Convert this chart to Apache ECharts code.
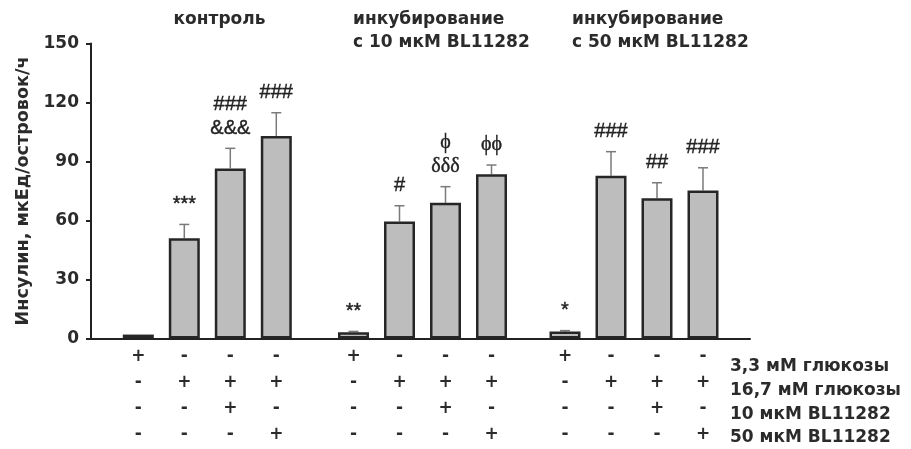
<!DOCTYPE html>
<html><head><meta charset="utf-8">
<script src="https://cdn.jsdelivr.net/npm/echarts@6/dist/echarts.min.js"></script>
<style>html,body{margin:0;padding:0;background:#fff}#c{width:911px;height:449px}</style>
</head><body><div id="c"></div>
<script>
// ---- data ----
const groupTitles = ['контроль', 'инкубирование\nс 10 мкМ BL11282', 'инкубирование\nс 50 мкМ BL11282'];
const rowLabels = ['3,3 мМ глюкозы', '16,7 мМ глюкозы', '10 мкМ BL11282', '50 мкМ BL11282'];
const glucose33  = ['+','-','-','-', '+','-','-','-', '+','-','-','-'];
const glucose167 = ['-','+','+','+', '-','+','+','+', '-','+','+','+'];
const bl10mk     = ['-','-','+','-', '-','-','+','-', '-','-','+','-'];
const bl50mk     = ['-','-','-','+', '-','-','-','+', '-','-','-','+'];
const yAxisName = 'Инсулин, мкЕд/островок/ч';
const yMin = 0, yMax = 150, yInterval = 30;

const controlValues = [2, 51, 86.5, 103];
const controlErrors = [0, 7, 10.2, 11.8];
const controlMarks  = ['', '***', '###\n&&&', '###'];

const bl10Values = [3.2, 59.5, 69, 83.5];
const bl10Errors = [0.4, 8, 8.2, 4.7];
const bl10Marks  = ['**', '#', 'ϕ\nδδδ', 'ϕϕ'];

const bl50Values = [3.5, 82.8, 71.3, 75.3];
const bl50Errors = [0.5, 12.2, 7.9, 11.5];
const bl50Marks  = ['*', '###', '##', '###'];

// ---- build ----
const groupsValues = [controlValues, bl10Values, bl50Values];
const groupsErrors = [controlErrors, bl10Errors, bl50Errors];
const groupsMarks  = [controlMarks, bl10Marks, bl50Marks];
const columns = glucose33.map((s, k) => [glucose33[k], glucose167[k], bl10mk[k], bl50mk[k]].join('\n'));

const FONT = 'DejaVu Sans';
const TXT = '#2b2b2b';
const TOP = 43.5, H = 295;
const groupLeft = [115.3, 330.5, 542];
const groupWidth = 184;

const grids = [{ left: 91, right: 161, top: TOP, height: H }];
groupLeft.forEach(l => grids.push({ left: l, width: groupWidth, top: TOP, height: H }));

const xAxes = [{
  gridIndex: 0, type: 'value', min: 0, max: 1,
  axisLine: { show: true, onZero: false, lineStyle: { color: '#222', width: 2 } },
  axisTick: { show: false }, axisLabel: { show: false }, splitLine: { show: false }
}];
const yAxes = [{
  gridIndex: 0, type: 'value', min: yMin, max: yMax, interval: yInterval,
  name: yAxisName, nameLocation: 'middle', nameRotate: 90, nameGap: 58,
  nameTextStyle: { fontFamily: FONT, fontWeight: 'bold', fontSize: 17.6, color: TXT },
  axisLine: { show: true, lineStyle: { color: '#222', width: 2 } },
  axisTick: { show: true, inside: false, length: 5, lineStyle: { color: '#222', width: 2 } },
  axisLabel: { fontFamily: FONT, fontWeight: 'bold', fontSize: 17, color: TXT, margin: 12 },
  splitLine: { show: false }
}];
const series = [];

for (let g = 0; g < 3; g++) {
  const gi = g + 1;
  xAxes.push({
    gridIndex: gi, type: 'category', data: columns.slice(g * 4, g * 4 + 4),
    axisLine: { show: false }, axisTick: { show: false }, splitLine: { show: false },
    axisLabel: { interval: 0, fontFamily: FONT, fontWeight: 'bold', fontSize: 17, lineHeight: 26, margin: 5, color: TXT }
  });
  yAxes.push({
    gridIndex: gi, type: 'value', min: yMin, max: yMax, interval: yInterval, show: false
  });
  series.push({
    type: 'bar', xAxisIndex: gi, yAxisIndex: gi, z: 3,
    data: groupsValues[g], barWidth: 31,
    itemStyle: { color: '#bdbdbd', borderColor: '#262626', borderWidth: 2.5 },
    silent: true, animation: false
  });
  const marks = groupsMarks[g];
  series.push({
    type: 'custom', xAxisIndex: gi, yAxisIndex: gi, z: 2,
    data: groupsValues[g].map((v, i) => [i, v, groupsErrors[g][i]]),
    encode: { x: 0, y: 1 },
    renderItem: function (params, api) {
      const i = api.value(0), v = api.value(1), e = api.value(2);
      const p0 = api.coord([i, v]);
      const p1 = api.coord([i, v + e]);
      const children = [];
      if (e > 0) {
        children.push({ type: 'line', shape: { x1: p0[0], y1: p0[1], x2: p1[0], y2: p1[1] }, style: { stroke: '#7a7a7a', lineWidth: 1.5 } });
        children.push({ type: 'line', shape: { x1: p1[0] - 5, y1: p1[1], x2: p1[0] + 5, y2: p1[1] }, style: { stroke: '#7a7a7a', lineWidth: 1.5 } });
      }
      const t = marks[params.dataIndex];
      if (t) {
        const greek = /[ϕδ]/.test(t);
        children.push({ type: 'text', x: p1[0], y: p1[1] - 8, style: {
          text: t, align: 'center', verticalAlign: 'bottom', lineHeight: 24,
          fontFamily: greek ? 'Liberation Serif' : 'Liberation Sans', fontSize: 20, fill: '#222',
          stroke: '#222', lineWidth: 0.4
        } });
      }
      return { type: 'group', children };
    },
    silent: true, animation: false
  });
}

const graphic = [];
const titlePos = [{ x: 219.5, align: 'center' }, { x: 353, align: 'left' }, { x: 572, align: 'left' }];
groupTitles.forEach((t, g) => graphic.push({
  type: 'text', x: titlePos[g].x, y: 8.5,
  style: { text: t, align: titlePos[g].align, verticalAlign: 'top', lineHeight: 23, fontFamily: FONT, fontWeight: 'bold', fontSize: 17, fill: TXT }
}));
const rowY = [367, 391, 415, 438];
rowLabels.forEach((t, r) => graphic.push({
  type: 'text', x: 730, y: rowY[r],
  style: { text: t, align: 'left', verticalAlign: 'middle', fontFamily: FONT, fontWeight: 'bold', fontSize: 17, fill: TXT }
}));

const chart = echarts.init(document.getElementById('c'));
chart.setOption({
  animation: false, backgroundColor: '#fff',
  grid: grids, xAxis: xAxes, yAxis: yAxes, series, graphic
});
</script>
</body></html>
